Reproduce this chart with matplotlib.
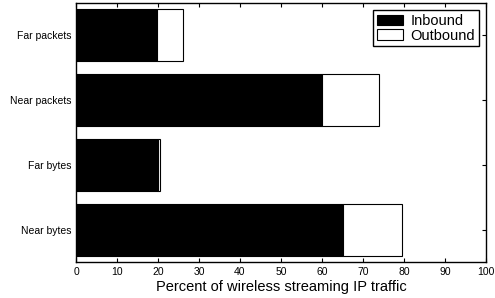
import matplotlib
matplotlib.use("Agg")
import matplotlib.pyplot as plt

plt.rcParams['font.family'] = ['Liberation Sans', 'DejaVu Sans']

categories = ["Near bytes", "Far bytes", "Near packets", "Far packets"]
inbound = [65.0, 20.0, 59.9, 19.7]
outbound = [14.6, 0.5, 14.0, 6.5]

fig = plt.figure(figsize=(4.95, 2.98), dpi=100)
ax = fig.add_axes([76/495, 36/298, 410/495, 259/298])

pos = list(range(1, len(categories) + 1))
ax.barh(pos, inbound, height=0.8, color="black", edgecolor="black", linewidth=0.8, label="Inbound")
ax.barh(pos, outbound, left=inbound, height=0.8, color="white", edgecolor="black", linewidth=0.8, label="Outbound")

ax.set_xlim(0, 100)
ax.set_ylim(0.5, 4.5)
ax.set_xticks(range(0, 101, 10))
ax.set_yticks(pos)
ax.set_yticklabels(categories)
ax.tick_params(direction="in", top=True, right=True, labelsize=7.5, length=3, width=0.8)
for s in ax.spines.values():
    s.set_linewidth(1.0)
ax.set_xlabel("Percent of wireless streaming IP traffic", fontsize=10.5, labelpad=2)

leg = ax.legend(loc="upper right", fontsize=10.5, fancybox=False, framealpha=1,
                edgecolor="black", borderpad=0.25, handlelength=1.8, handleheight=0.75,
                labelspacing=0.05, borderaxespad=0.5, handletextpad=0.5)
leg.get_frame().set_linewidth(1.0)

fig.savefig("out.png", dpi=100)
